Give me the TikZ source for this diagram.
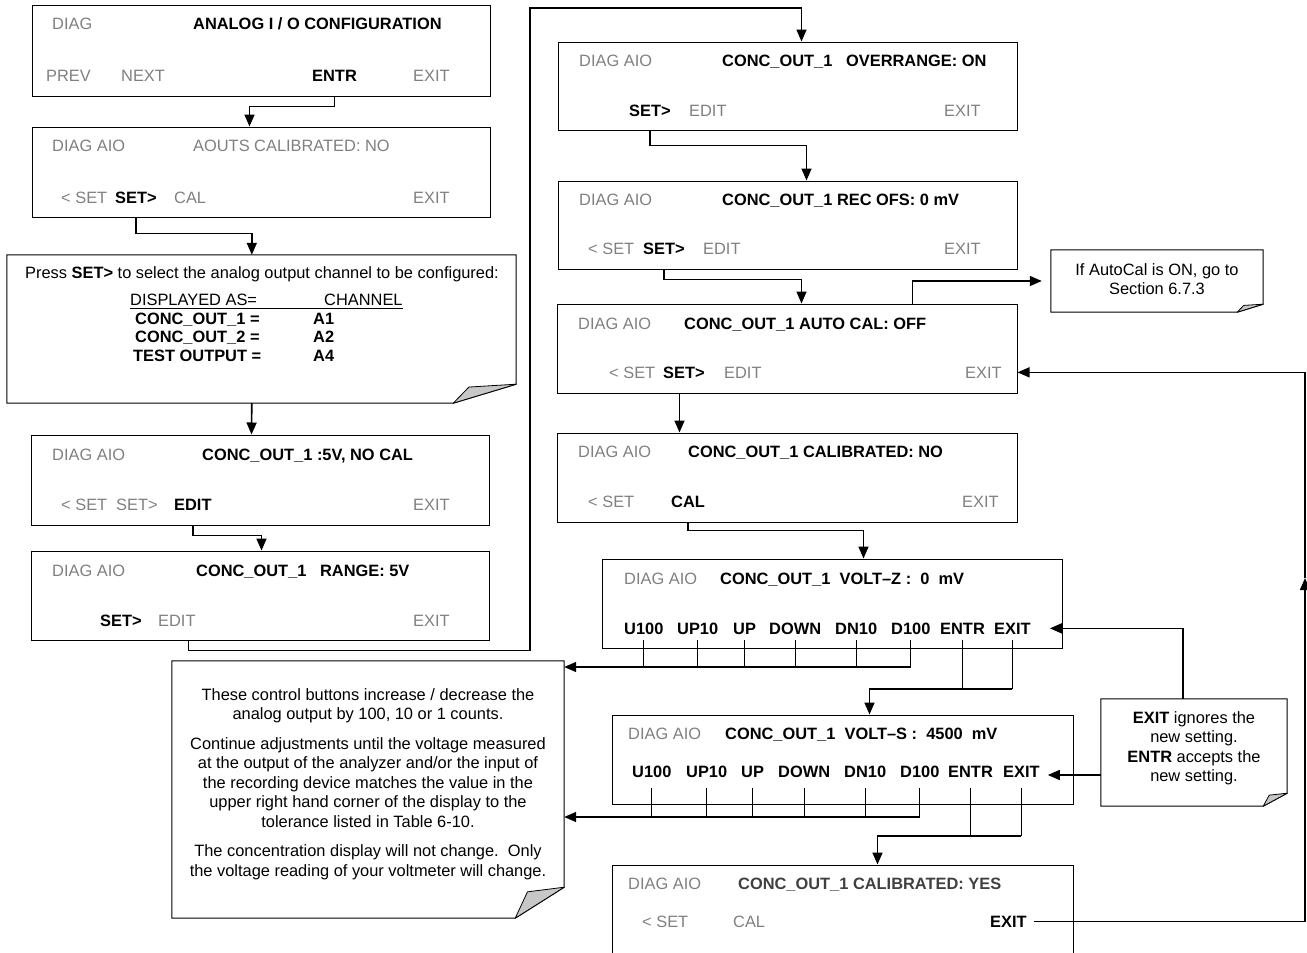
\documentclass[tikz,border=0pt]{standalone}
\usepackage{fontspec}
\setmainfont{Liberation Sans}
\usetikzlibrary{arrows.meta,calc}

\definecolor{dimgray}{gray}{0.5}
\definecolor{foldgray}{gray}{0.78}
\newcommand{\lcdfont}{\fontsize{16.4}{19.6}\selectfont}
\newcommand{\foldnote}[3]{%
  \draw[line width=1pt] (#1.north west) -- (#1.north east) -- ([yshift=#3pt]#1.south east)
    -- ([xshift=-#2pt]#1.south east) -- (#1.south west) -- cycle;
  \filldraw[fill=foldgray, line width=0.8pt, line join=round] ([xshift=-#2pt]#1.south east)
    -- ([xshift={-0.75*#2}, yshift={0.85*#3}]#1.south east) -- ([yshift=#3pt]#1.south east) -- cycle;
}

\tikzset{
  screen/.style={draw, line width=1pt, inner sep=0pt, minimum width=460, minimum height=89},
  holder/.style={inner sep=0pt},
  txt/.style={anchor=base west, inner sep=0pt, font=\lcdfont},
  dim/.style={txt, text=dimgray},
  key/.style={txt, font=\lcdfont\bfseries},
  flow/.style={line width=1.6pt, -{Triangle[length=12pt,width=10pt]}},
  tick/.style={line width=1pt}
}

\begin{document}
\begin{tikzpicture}[x=1pt, y=-1pt]
\useasboundingbox (0,0) rectangle (1307,953);

\node[screen, minimum width=458, minimum height=91] (b1) at (261,50.5) {};
\node[screen, minimum width=458, minimum height=90] (b2) at (261,172) {};
\node[holder, minimum width=509, minimum height=148] (b3) at (261.5,329) {};
\node[screen, minimum width=458, minimum height=90] (b4) at (260,480) {};
\node[screen, minimum width=458, minimum height=89] (b5) at (260,595.5) {};
\node[screen, minimum width=459, minimum height=88] (b6) at (787.5,86) {};
\node[screen, minimum width=459, minimum height=88] (b7) at (787.5,225) {};
\node[screen] (b8) at (787,348.5) {};
\node[screen] (b9) at (787,477.5) {};
\node[screen] (b10) at (832,603.5) {};
\node[screen, minimum width=461] (b11) at (842.5,759.5) {};
\node[screen, minimum width=461, minimum height=130] (b12) at (842.5,930) {};
\node[holder, minimum width=212, minimum height=62] (calnote) at (1157,281) {};
\node[holder, minimum width=392, minimum height=257] (adjnote) at (368,789.5) {};
\node[holder, minimum width=186, minimum height=107] (exitnote) at (1194,752.5) {};
\foldnote{b3}{63}{19}
\foldnote{calnote}{26}{8}
\foldnote{adjnote}{49}{31}
\foldnote{exitnote}{24}{13}

\node[dim] (diag1) at (52,29) {DIAG};
\node[key] (title1) at (193,29) {ANALOG I / O CONFIGURATION};
\node[dim] (prev1) at (46,81) {PREV};
\node[dim] (next1) at (121,81) {NEXT};
\node[key] (entr1) at (312,81) {ENTR};
\node[dim] (exit1) at (413,81) {EXIT};

\node[dim] (diag2) at (52,151) {DIAG AIO};
\node[dim] (title2) at (193,151) {AOUTS CALIBRATED: NO};
\node[dim] (back2) at (61,203) {< SET};
\node[key] (set2) at (115,203) {SET>};
\node[dim] (cal2) at (174,203) {CAL};
\node[dim] (exit2) at (413,203) {EXIT};

\node[txt, anchor=base] (press) at (262,278) {Press \textbf{SET>} to select the analog output channel to be configured:};
\node[txt] (dispas) at (130,305) {DISPLAYED AS=};
\node[txt] (chan) at (324,305) {CHANNEL};
\draw[line width=0.8pt] ([yshift=-3pt]dispas.base west) -- ([yshift=-3pt]chan.base east);
\node[key] (row1) at (135,324) {CONC\_OUT\_1 =};
\node[key] (row2) at (135,342.5) {CONC\_OUT\_2 =};
\node[key] (row3) at (133,361) {TEST OUTPUT =};
\node[key] (ch1) at (313,324) {A1};
\node[key] (ch2) at (313,342.5) {A2};
\node[key] (ch3) at (313,361) {A4};

\node[dim] (diag4) at (52,460) {DIAG AIO};
\node[key] (title4) at (202,460) {CONC\_OUT\_1 :5V, NO CAL};
\node[dim] (back4) at (61,510) {< SET};
\node[dim] (set4) at (116,510) {SET>};
\node[key] (edit4) at (174,510) {EDIT};
\node[dim] (exit4) at (413,510) {EXIT};

\node[dim] (diag5) at (52,576) {DIAG AIO};
\node[key] (title5) at (196,576) {CONC\_OUT\_1\ \ \ RANGE: 5V};
\node[key] (set5) at (100,626) {SET>};
\node[dim] (edit5) at (158,626) {EDIT};
\node[dim] (exit5) at (413,626) {EXIT};

\node[dim] (diag6) at (579,66) {DIAG AIO};
\node[key] (title6) at (722,66) {CONC\_OUT\_1\ \ \ OVERRANGE: ON};
\node[key] (set6) at (629,116) {SET>};
\node[dim] (edit6) at (689,116) {EDIT};
\node[dim] (exit6) at (944,116) {EXIT};

\node[dim] (diag7) at (579,205) {DIAG AIO};
\node[key] (title7) at (722,205) {CONC\_OUT\_1 REC OFS: 0 mV};
\node[dim] (back7) at (588,254) {< SET};
\node[key] (set7) at (643,254) {SET>};
\node[dim] (edit7) at (703,254) {EDIT};
\node[dim] (exit7) at (944,254) {EXIT};

\node[dim] (diag8) at (578,329) {DIAG AIO};
\node[key] (title8) at (684,329) {CONC\_OUT\_1 AUTO CAL: OFF};
\node[dim] (back8) at (609,378) {< SET};
\node[key] (set8) at (663,378) {SET>};
\node[dim] (edit8) at (724,378) {EDIT};
\node[dim] (exit8) at (965,378) {EXIT};

\node[dim] (diag9) at (578,457) {DIAG AIO};
\node[key] (title9) at (688,457) {CONC\_OUT\_1 CALIBRATED: NO};
\node[dim] (back9) at (588,507) {< SET};
\node[key] (cal9) at (671,507) {CAL};
\node[dim] (exit9) at (962,507) {EXIT};

\node[dim] (diag10) at (624,584) {DIAG AIO};
\node[key] (title10) at (720,584) {CONC\_OUT\_1~~VOLT\textendash Z~:~~0~~mV};
\foreach \k/\x/\t in {a/624/U100, b/677/UP10, c/733/UP, d/769/DOWN, e/835/DN10, f/891/D100, g/940/ENTR, h/994/EXIT}
  \node[key] (z\k) at (\x,634) {\t};

\node[dim] (diag11) at (628,739) {DIAG AIO};
\node[key] (title11) at (725,739) {CONC\_OUT\_1~~VOLT\textendash S~:~~4500~~mV};
\foreach \k/\x/\t in {a/632/U100, b/686/UP10, c/741/UP, d/778/DOWN, e/844/DN10, f/900/D100, g/948/ENTR, h/1003/EXIT}
  \node[key] (y\k) at (\x,777) {\t};

\node[dim] (diag12) at (628,889) {DIAG AIO};
\node[key, text=black!75] (title12) at (738,889) {CONC\_OUT\_1 CALIBRATED: YES};
\node[dim] (back12) at (642,927) {< SET};
\node[dim] (cal12) at (733,927) {CAL};
\node[key] (exit12) at (990,927) {EXIT};

\node[txt, anchor=north, align=center] (caltxt) at (1157,263) {If AutoCal is ON, go to\\Section 6.7.3};
\node[txt, anchor=north, align=center] (adjtxt) at (368,688) {These control buttons increase / decrease the\\analog output by 100, 10 or 1 counts.\\[9.8pt]Continue adjustments until the voltage measured\\at the output of the analyzer and/or the input of\\the recording device matches the value in the\\upper right hand corner of the display to the\\tolerance listed in Table 6-10.\\[9.8pt]The concentration display will not change.\ \ Only\\the voltage reading of your voltmeter will change.};
\node[txt, anchor=north, align=center] (exittxt) at (1194,711) {\textbf{EXIT} ignores the\\new setting.\\\textbf{ENTR} accepts the\\new setting.};

\coordinate (loop) at (530,8);
\coordinate (rail) at (1305,578);
\coordinate (topA) at (0,640);
\coordinate (busA) at (0,667);
\coordinate (joinA) at (0,689);
\coordinate (topB) at (0,788);
\coordinate (busB) at (0,817);
\coordinate (joinB) at (0,836);

\draw[flow] (entr1 |- b1.south) -- ++(0,10) -| ([xshift=218pt]b2.north west);
\draw[flow] (set2 |- b2.south) -- ++(0,16) -| ([xshift=245pt]b3.north west);
\draw[flow] ([xshift=245pt]b3.south west) -- ([xshift=221pt]b4.north west);
\draw[flow] (edit4 |- b4.south) -- ++(0,10) -| ([xshift=231pt]b5.north west);
\draw[flow] ([xshift=158pt]b5.south west) -- ++(0,10) -| (loop) -| ([xshift=244pt]b6.north west);
\draw[flow] (set6 |- b6.south) -- ++(0,15) -| ([xshift=249pt]b7.north west);
\draw[flow] (set7 |- b7.south) -- ++(0,10) -| ([xshift=245pt]b8.north west);
\draw[flow, shorten >=9pt] ([xshift=356pt]b8.north west) |- (calnote.west);
\draw[flow] ([xshift=123pt]b8.south west) -- ([xshift=123pt]b9.north west);
\draw[flow] (cal9 |- b9.south) -- ++(0,8) -| ([xshift=262pt]b10.north west);

\foreach \k in {a,b,c,d,e,f}
  \draw[tick] (z\k |- topA) -- (z\k |- busA);
\draw[flow] (zf |- busA) -- (adjnote.east |- busA);
\draw[tick] (zg |- topA) -- (zg |- joinA);
\draw[tick] (zh |- topA) -- (zh |- joinA);
\draw[flow] (zh |- joinA) -| ([xshift=258pt]b11.north west);

\foreach \k in {a,b,c,d,e,f}
  \draw[tick] (y\k |- topB) -- (y\k |- busB);
\draw[flow] (yf |- busB) -- (adjnote.east |- busB);
\draw[tick] (yg |- topB) -- (yg |- joinB);
\draw[tick] (yh |- topB) -- (yh |- joinB);
\draw[flow] (yh |- joinB) -| ([xshift=266pt]b12.north west);

\draw[flow] ([xshift=82pt]exitnote.north west) |- ([xshift=19pt]zh.east);
\draw[flow] ([yshift=-22.5pt]exitnote.west) -- ++(-53,0);
\draw[flow] ([xshift=7pt]exit12.east) -| (rail);
\draw[flow] (rail) |- (b8.east |- exit8.east);
\end{tikzpicture}
\end{document}
